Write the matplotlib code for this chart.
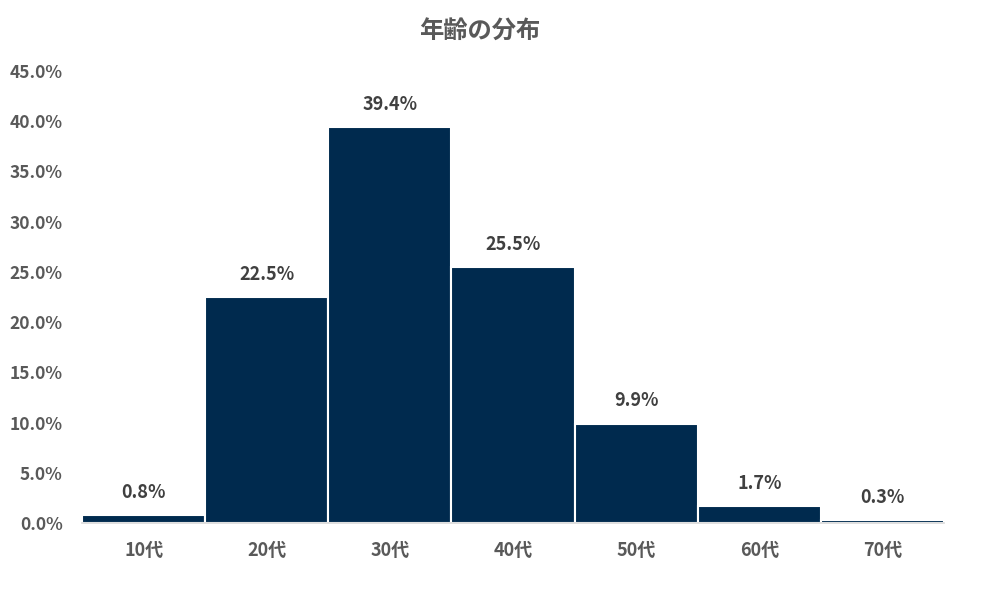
import numpy as np
import matplotlib
matplotlib.use('Agg')
import matplotlib.pyplot as plt
from matplotlib.ticker import FuncFormatter

plt.rcParams['font.family'] = ['Noto Sans CJK JP', 'DejaVu Sans']

ages = ['10代', '20代', '30代', '40代', '50代', '60代', '70代']
shares = [0.8, 22.5, 39.4, 25.5, 9.9, 1.7, 0.3]

fig = plt.figure(figsize=(10, 5.97), dpi=100)
ax = fig.add_axes([0.082, 0.124, 0.862, 0.757])

x = np.arange(len(ages))
ax.bar(x, shares, width=1.0, color='#002A4E', edgecolor='white', linewidth=1.5)

for xi, v in zip(x, shares):
    ax.text(xi, v + 1.3, f'{v:.1f}%', ha='center', va='bottom',
            fontsize=13, fontweight='bold', color='#404040')

ax.set_xlim(-0.5, len(ages) - 0.5)
ax.set_ylim(0, 45)
ax.set_yticks(np.arange(0, 46, 5))
ax.yaxis.set_major_formatter(FuncFormatter(lambda v, p: f'{v:.1f}%'))
ax.set_xticks(x)
ax.set_xticklabels(ages)

for lab in ax.get_yticklabels():
    lab.set_fontweight('bold')
    lab.set_color('#595959')
    lab.set_fontsize(12.5)
for lab in ax.get_xticklabels():
    lab.set_fontweight('bold')
    lab.set_color('#595959')
    lab.set_fontsize(13)

ax.tick_params(axis='both', length=0)
ax.tick_params(axis='x', pad=13)
ax.tick_params(axis='y', pad=14)
for s in ['top', 'right', 'left']:
    ax.spines[s].set_visible(False)
ax.spines['bottom'].set_color('#D9D9D9')
ax.spines['bottom'].set_linewidth(1.2)

fig.text(0.48, 0.947, '年齢の分布', ha='center', va='center',
         fontsize=17.5, fontweight='bold', color='#595959')

fig.savefig('out.png', dpi=100)
